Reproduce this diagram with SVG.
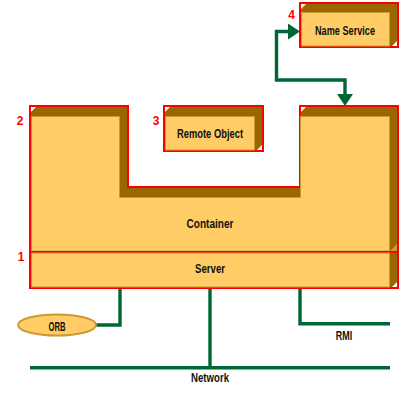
<svg xmlns="http://www.w3.org/2000/svg" width="420" height="400" viewBox="0 0 420 400">
<style>
.outline{fill:#996600;stroke:#FF0000;stroke-width:2}
.face{fill:#FFCC66;stroke:#CC9933;stroke-width:1}
.hl{fill:#FFFFFF}
.lbl{font-family:"Liberation Sans",Arial,sans-serif;font-weight:bold;font-size:12px;fill:#111111;text-anchor:middle}
.num{font-family:"Liberation Sans",Arial,sans-serif;font-weight:bold;font-size:12px;fill:#FF0000;text-anchor:middle}
.wire{fill:none;stroke:#006633;stroke-width:3.4}
</style>
<defs>
<marker id="arr" viewBox="0 0 12 16" refX="0" refY="8" markerWidth="12" markerHeight="16" markerUnits="userSpaceOnUse" orient="auto-start-reverse">
<path d="M0,0 L12,8 L0,16 z" fill="#006633"/>
</marker>
</defs>
<g id="connectors">
<path class="wire" d="M345,94 V80 H276.5 V31.5 H288" marker-start="url(#arr)" marker-end="url(#arr)"/>
<path class="wire" d="M120,288 V325 H96"/>
<path class="wire" d="M210,288 V367.7"/>
<path class="wire" d="M30,367.7 H390"/>
<path class="wire" d="M300,288 V323.7 H390"/>
</g>
<g id="container">
<polygon class="outline" points="30,106 128,106 128,187 300,187 300,106 398,106 398,252 30,252"/>
<polygon class="face" points="31.5,116.5 119.5,116.5 119.5,197.5 300.5,197.5 300.5,116.5 389.5,116.5 389.5,251 31.5,251"/>
<polygon fill="#CC9933" points="390,251 397,244 397,251"/>
<polygon class="hl" points="31,107 36,107 31,112"/>
<polygon class="hl" points="301,107 306,107 301,112"/>
<text class="lbl" x="210" y="228" textLength="47" lengthAdjust="spacingAndGlyphs">Container</text>
<text class="num" x="20" y="125">2</text>
</g>
<g id="server">
<rect x="30" y="252" width="368" height="36" fill="#996600" stroke="#FF0000" stroke-width="2"/>
<rect class="face" x="31.5" y="253" width="358" height="34"/>
<polygon class="hl" points="397,282 397,287 392,287"/>
<text class="lbl" x="210" y="273" textLength="30" lengthAdjust="spacingAndGlyphs">Server</text>
<text class="num" x="21" y="261">1</text>
</g>
<g id="remote-object">
<rect class="outline" x="164" y="106" width="99" height="45"/>
<rect class="face" x="165.5" y="116.5" width="89" height="33.5"/>
<polygon class="hl" points="165,107 170,107 165,112"/>
<polygon class="hl" points="262,145 262,150 257,150"/>
<text class="lbl" x="210" y="137.5" textLength="66" lengthAdjust="spacingAndGlyphs">Remote Object</text>
<text class="num" x="156" y="125">3</text>
</g>
<g id="name-service">
<rect class="outline" x="300" y="3" width="98" height="44"/>
<rect class="face" x="301.5" y="12.5" width="88" height="33.5"/>
<polygon class="hl" points="301,4 306,4 301,9"/>
<polygon class="hl" points="397,41 397,46 392,46"/>
<text class="lbl" x="345" y="34.5" textLength="60" lengthAdjust="spacingAndGlyphs">Name Service</text>
<text class="num" x="291.5" y="19">4</text>
</g>
<g id="orb">
<ellipse cx="57" cy="325" rx="39" ry="10.5" fill="#FFCC66" stroke="#CC9933" stroke-width="2"/>
<text class="lbl" x="57" y="331" textLength="17" lengthAdjust="spacingAndGlyphs">ORB</text>
</g>
<g id="network-labels">
<text class="lbl" x="344" y="340" textLength="16.5" lengthAdjust="spacingAndGlyphs">RMI</text>
<text class="lbl" x="210" y="381.5" textLength="38" lengthAdjust="spacingAndGlyphs">Network</text>
</g>
</svg>
